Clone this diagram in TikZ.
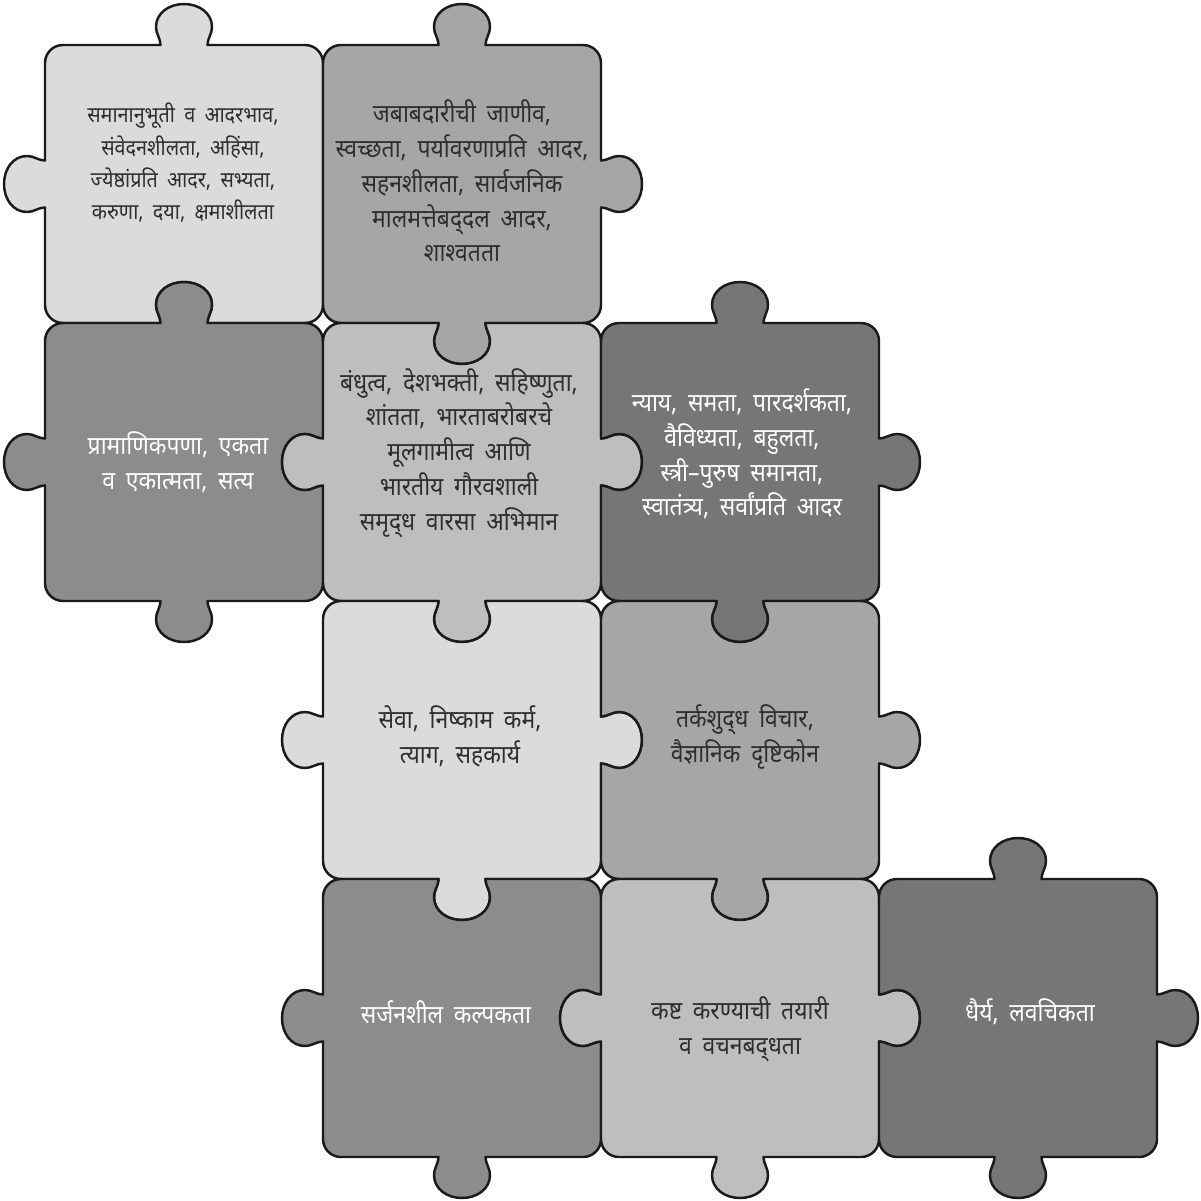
\documentclass[tikz,border=0pt]{standalone}
\usepackage{fontspec}
\newfontfamily\devfont[Script=Devanagari,FakeStretch=0.9,WordSpace=1.8]{Noto Sans}

\definecolor{pzlight}{HTML}{DBDBDB}
\definecolor{pzmid}{HTML}{BEBEBE}
\definecolor{pzgray}{HTML}{A6A6A6}
\definecolor{pzdark}{HTML}{8C8C8C}
\definecolor{pzdeep}{HTML}{767676}
\definecolor{pzline}{HTML}{1A1A1A}
\definecolor{pzink}{HTML}{2E2E2E}

% one side of a piece, turned by #1; #2 is 1 for a tab, -1 for a hole, 0 for flat
\newcommand\pzside[2]{%
  -- ([rotate=#1]-23.5,-139)
  .. controls ([rotate=#1]-24,{-139-8*(#2)}) and ([rotate=#1]-28,{-139-11*(#2)}) .. ([rotate=#1]-28,{-139-18*(#2)})
  .. controls ([rotate=#1]-28,{-139-32*(#2)}) and ([rotate=#1]-15,{-139-41*(#2)}) .. ([rotate=#1]0,{-139-41*(#2)})
  .. controls ([rotate=#1]15,{-139-41*(#2)}) and ([rotate=#1]28,{-139-32*(#2)}) .. ([rotate=#1]28,{-139-18*(#2)})
  .. controls ([rotate=#1]28,{-139-11*(#2)}) and ([rotate=#1]24,{-139-8*(#2)}) .. ([rotate=#1]23.5,-139)
  -- ([rotate=#1]121,-139)
  .. controls ([rotate=#1]131,-139) and ([rotate=#1]139,-131) .. ([rotate=#1]139,-121)}

% a whole piece: centre, top, right, bottom, left, fill
\newcommand\pzpiece[6]{%
  \draw[piece, fill=#6, shift={#1}] ([rotate=0]-121,-139)
    \pzside{0}{#2} \pzside{-90}{#3} \pzside{-180}{#4} \pzside{-270}{#5} -- cycle;}

\tikzset{
  piece/.style={draw=pzline, line width=1.4pt, line join=round},
  lbl/.style={font=\devfont\fontsize{14.5}{19.8}\selectfont, align=center, text=pzink},
  lblw/.style={lbl, text=white},
  lblsmall/.style={lbl, font=\devfont\fontsize{12.5}{18.4}\selectfont}
}

\begin{document}
\begin{tikzpicture}[x=0.2mm, y=-0.2mm]
	\useasboundingbox (0,0) rectangle (1201,1201);
	% top row
	\pzpiece{(184,184)}{1}{0}{-1}{1}{pzlight}
	\pzpiece{(462,184)}{1}{1}{1}{0}{pzgray}
	% second row
	\pzpiece{(184,462)}{1}{-1}{1}{1}{pzdark}
	\pzpiece{(462,462)}{-1}{1}{1}{1}{pzmid}
	\pzpiece{(740,462)}{1}{1}{1}{-1}{pzdeep}
	% third row
	\pzpiece{(462,740)}{-1}{1}{1}{1}{pzlight}
	\pzpiece{(740,740)}{-1}{1}{1}{-1}{pzgray}
	% bottom row
	\pzpiece{(462,1018)}{-1}{-1}{1}{1}{pzdark}
	\pzpiece{(740,1018)}{-1}{1}{1}{1}{pzmid}
	\pzpiece{(1018,1018)}{1}{1}{1}{-1}{pzdeep}
	% the values
	\node[lblsmall] (empathy) at (183,163) {समानानुभूती व आदरभाव,\\संवेदनशीलता, अहिंसा,\\ज्येष्ठांप्रति आदर, सभ्यता,\\करुणा, दया, क्षमाशीलता};
	\node[lbl] (duty) at (462,181) {जबाबदारीची जाणीव,\\स्वच्छता, पर्यावरणाप्रति आदर,\\सहनशीलता, सार्वजनिक\\मालमत्तेबद्^^^^200cदल आदर,\\शाश्वतता};
	\node[lblw] (honesty) at (178,462) {प्रामाणिकपणा, एकता\\व एकात्मता, सत्य};
	\node[lbl] (unity) at (459,453) {बंधुत्व, देशभक्ती, सहिष्णुता,\\शांतता, भारताबरोबरचे\\मूलगामीत्व आणि\\भारतीय गौरवशाली\\समृद्^^^^200cध वारसा अभिमान};
	\node[lblw] (justice) at (742,454) {न्याय, समता, पारदर्शकता,\\वैविध्यता, बहुलता,\\स्त्री–पुरुष समानता,\\स्वातंत्र्य, सर्वांप्रति आदर};
	\node[lbl] (service) at (460,736) {सेवा, निष्काम कर्म,\\त्याग, सहकार्य};
	\node[lbl] (reason) at (745,737) {तर्कशुद्^^^^200cध विचार,\\वैज्ञानिक दृष्टिकोन};
	\node[lblw] (creative) at (446,1012) {सर्जनशील कल्पकता};
	\node[lbl] (effort) at (740,1029) {कष्ट करण्याची तयारी\\व वचनबद्^^^^200cधता};
	\node[lblw] (courage) at (1030,1012) {धैर्य, लवचिकता};
\end{tikzpicture}
\end{document}
